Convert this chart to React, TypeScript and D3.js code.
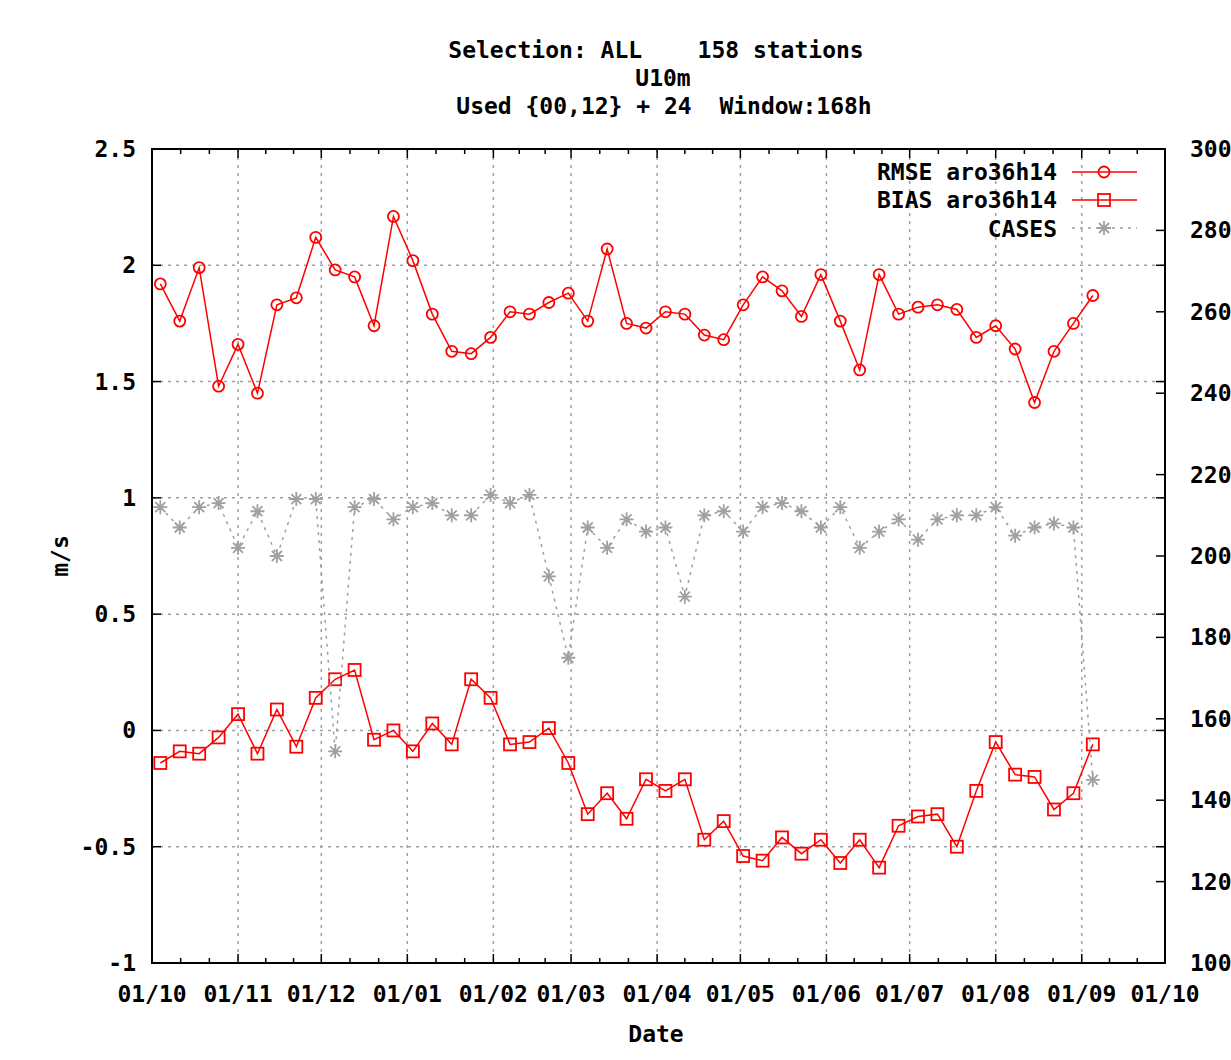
import React from 'react';
import * as d3 from 'd3';

// weekly scores, 168h window
const dates = [
  '2012-10-04', '2012-10-11', '2012-10-18', '2012-10-25', '2012-11-01', '2012-11-08', '2012-11-15',
  '2012-11-22', '2012-11-29', '2012-12-06', '2012-12-13', '2012-12-20', '2012-12-27', '2013-01-03',
  '2013-01-10', '2013-01-17', '2013-01-24', '2013-01-31', '2013-02-07', '2013-02-14', '2013-02-21',
  '2013-02-28', '2013-03-07', '2013-03-14', '2013-03-21', '2013-03-28', '2013-04-04', '2013-04-11',
  '2013-04-18', '2013-04-25', '2013-05-02', '2013-05-09', '2013-05-16', '2013-05-23', '2013-05-30',
  '2013-06-06', '2013-06-13', '2013-06-20', '2013-06-27', '2013-07-04', '2013-07-11', '2013-07-18',
  '2013-07-25', '2013-08-01', '2013-08-08', '2013-08-15', '2013-08-22', '2013-08-29', '2013-09-05',
];

const rmse = [
  1.92, 1.76, 1.99, 1.48, 1.66, 1.45, 1.83, 1.86, 2.12, 1.98, 1.95, 1.74, 2.21, 2.02, 1.79, 1.63, 1.62,
  1.69, 1.80, 1.79, 1.84, 1.88, 1.76, 2.07, 1.75, 1.73, 1.80, 1.79, 1.70, 1.68, 1.83, 1.95, 1.89, 1.78,
  1.96, 1.76, 1.55, 1.96, 1.79, 1.82, 1.83, 1.81, 1.69, 1.74, 1.64, 1.41, 1.63, 1.75, 1.87,
];

const bias = [
  -0.14, -0.09, -0.10, -0.03, 0.07, -0.10, 0.09, -0.07, 0.14, 0.22, 0.26, -0.04, 0.00, -0.09, 0.03, -0.06,
  0.22, 0.14, -0.06, -0.05, 0.01, -0.14, -0.36, -0.27, -0.38, -0.21, -0.26, -0.21, -0.47, -0.39, -0.54,
  -0.56, -0.46, -0.53, -0.47, -0.57, -0.47, -0.59, -0.41, -0.37, -0.36, -0.50, -0.26, -0.05, -0.19, -0.20,
  -0.34, -0.27, -0.06,
];

const cases = [
  212, 207, 212, 213, 202, 211, 200, 214, 214, 152, 212, 214, 209, 212, 213, 210, 210, 215, 213, 215,
  195, 175, 207, 202, 209, 206, 207, 190, 210, 211, 206, 212, 213, 211, 207, 212, 202, 206, 209, 204,
  209, 210, 210, 212, 205, 207, 208, 207, 145,
];

const yTicks = [-1, -0.5, 0, 0.5, 1, 1.5, 2, 2.5];
const y2Ticks = [100, 120, 140, 160, 180, 200, 220, 240, 260, 280, 300];
const titleLines = ['Selection: ALL    158 stations', 'U10m', 'Used {00,12} + 24  Window:168h'];

const W = 1231;
const H = 1060;
const left = 152;
const right = 1165;
const top = 149;
const bottom = 963;

const RED = '#ff0000';
const GREY = '#a0a0a0';
const font = { fontFamily: '"DejaVu Sans Mono", monospace', fontWeight: 'bold', fontSize: 23, whiteSpace: 'pre' } as const;

const starPath = 'M-7,0H7M0,-7V7M-5,-5L5,5M-5,5L5,-5';

export default function App() {
  const parse = d3.utcParse('%Y-%m-%d');
  const days = dates.map(d => parse(d) as Date);

  const x = d3.scaleUtc()
    .domain([new Date(Date.UTC(2012, 9, 1)), new Date(Date.UTC(2013, 9, 1))])
    .range([left, right]);
  const y = d3.scaleLinear().domain([-1, 2.5]).range([bottom, top]);
  const y2 = d3.scaleLinear().domain([100, 300]).range([bottom, top]);

  const months = d3.utcMonth.range(x.domain()[0], d3.utcDay.offset(x.domain()[1], 1));
  // 3 sub-intervals per month, like gnuplot mxtics
  const minor: number[] = [];
  for (let i = 0; i < months.length - 1; i++) {
    const a = x(months[i]), b = x(months[i + 1]);
    minor.push(a + (b - a) / 3, a + (2 * (b - a)) / 3);
  }
  const fmt = d3.utcFormat('%d/%m');

  const line = d3.line<number>().x((_, i) => x(days[i])).y(v => y(v));
  const line2 = d3.line<number>().x((_, i) => x(days[i])).y(v => y2(v));

  return (
    <svg width={W} height={H} style={{ position: 'absolute', left: 0, top: 0, background: '#fff' }}>
      {/* titles */}
      {titleLines.map((t, i) => (
        <text key={t} x={[656, 663, 664][i]} y={58 + i * 28} textAnchor="middle" style={font}>{t}</text>
      ))}

      {/* grid */}
      <g stroke={GREY} strokeWidth={1.5} strokeDasharray="3,5">
        {yTicks.slice(1, -1).map(t => (
          <line key={'gy' + t} x1={left} x2={right} y1={y(t)} y2={y(t)} />
        ))}
        {months.slice(1, -1).map(m => (
          <line key={'gx' + m.getTime()} x1={x(m)} x2={x(m)} y1={top} y2={bottom} />
        ))}
      </g>

      {/* ticks */}
      <g stroke="#000" strokeWidth={1.5}>
        {yTicks.map(t => (
          <g key={'ty' + t}>
            <line x1={left} x2={left + 9} y1={y(t)} y2={y(t)} />
            <line x1={right} x2={right - 9} y1={y(t)} y2={y(t)} />
          </g>
        ))}
        {y2Ticks.map(t => (
          <line key={'ty2' + t} x1={right} x2={right - 9} y1={y2(t)} y2={y2(t)} />
        ))}
        {months.map(m => (
          <g key={'tx' + m.getTime()}>
            <line x1={x(m)} x2={x(m)} y1={bottom} y2={bottom - 9} />
            <line x1={x(m)} x2={x(m)} y1={top} y2={top + 9} />
          </g>
        ))}
        {minor.map((v, i) => (
          <g key={'mx' + i}>
            <line x1={v} x2={v} y1={bottom} y2={bottom - 5} />
            <line x1={v} x2={v} y1={top} y2={top + 5} />
          </g>
        ))}
      </g>

      {/* tick labels */}
      {yTicks.map(t => (
        <text key={'ly' + t} x={136} y={y(t) + 8} textAnchor="end" style={font}>{String(t)}</text>
      ))}
      {y2Ticks.map(t => (
        <text key={'ly2' + t} x={1190} y={y2(t) + 8} style={font}>{t}</text>
      ))}
      {months.map(m => (
        <text key={'lx' + m.getTime()} x={x(m)} y={1002} textAnchor="middle" style={font}>{fmt(m)}</text>
      ))}
      <text x={656} y={1042} textAnchor="middle" style={font}>Date</text>
      <text transform={`translate(68,${(top + bottom) / 2}) rotate(-90)`} textAnchor="middle" style={font}>m/s</text>

      {/* RMSE */}
      <path d={line(rmse) ?? ''} fill="none" stroke={RED} strokeWidth={1.5} />
      {rmse.map((v, i) => (
        <circle key={'r' + i} cx={x(days[i])} cy={y(v)} r={5.5} fill="none" stroke={RED} strokeWidth={1.8} />
      ))}

      {/* BIAS */}
      <path d={line(bias) ?? ''} fill="none" stroke={RED} strokeWidth={1.5} />
      {bias.map((v, i) => (
        <rect key={'b' + i} x={x(days[i]) - 6} y={y(v) - 6} width={12} height={12} fill="none" stroke={RED} strokeWidth={1.8} />
      ))}

      {/* CASES */}
      <path d={line2(cases) ?? ''} fill="none" stroke={GREY} strokeWidth={1.5} strokeDasharray="3,5" />
      {cases.map((v, i) => (
        <path key={'c' + i} d={starPath} transform={`translate(${x(days[i])},${y2(v)})`} stroke={GREY} strokeWidth={1.8} />
      ))}

      {/* legend */}
      <g>
        <text x={1057} y={180} textAnchor="end" style={font}>RMSE aro36h14</text>
        <line x1={1072} x2={1137} y1={172} y2={172} stroke={RED} strokeWidth={1.5} />
        <circle cx={1104} cy={172} r={5.5} fill="none" stroke={RED} strokeWidth={1.8} />
        <text x={1057} y={208} textAnchor="end" style={font}>BIAS aro36h14</text>
        <line x1={1072} x2={1137} y1={200} y2={200} stroke={RED} strokeWidth={1.5} />
        <rect x={1098} y={194} width={12} height={12} fill="none" stroke={RED} strokeWidth={1.8} />
        <text x={1057} y={237} textAnchor="end" style={font}>CASES</text>
        <line x1={1072} x2={1137} y1={228} y2={228} stroke={GREY} strokeWidth={1.5} strokeDasharray="3,5" />
        <path d={starPath} transform="translate(1104,228)" stroke={GREY} strokeWidth={1.8} />
      </g>

      {/* border */}
      <rect x={left} y={top} width={right - left} height={bottom - top} fill="none" stroke="#000" strokeWidth={2} />
    </svg>
  );
}
